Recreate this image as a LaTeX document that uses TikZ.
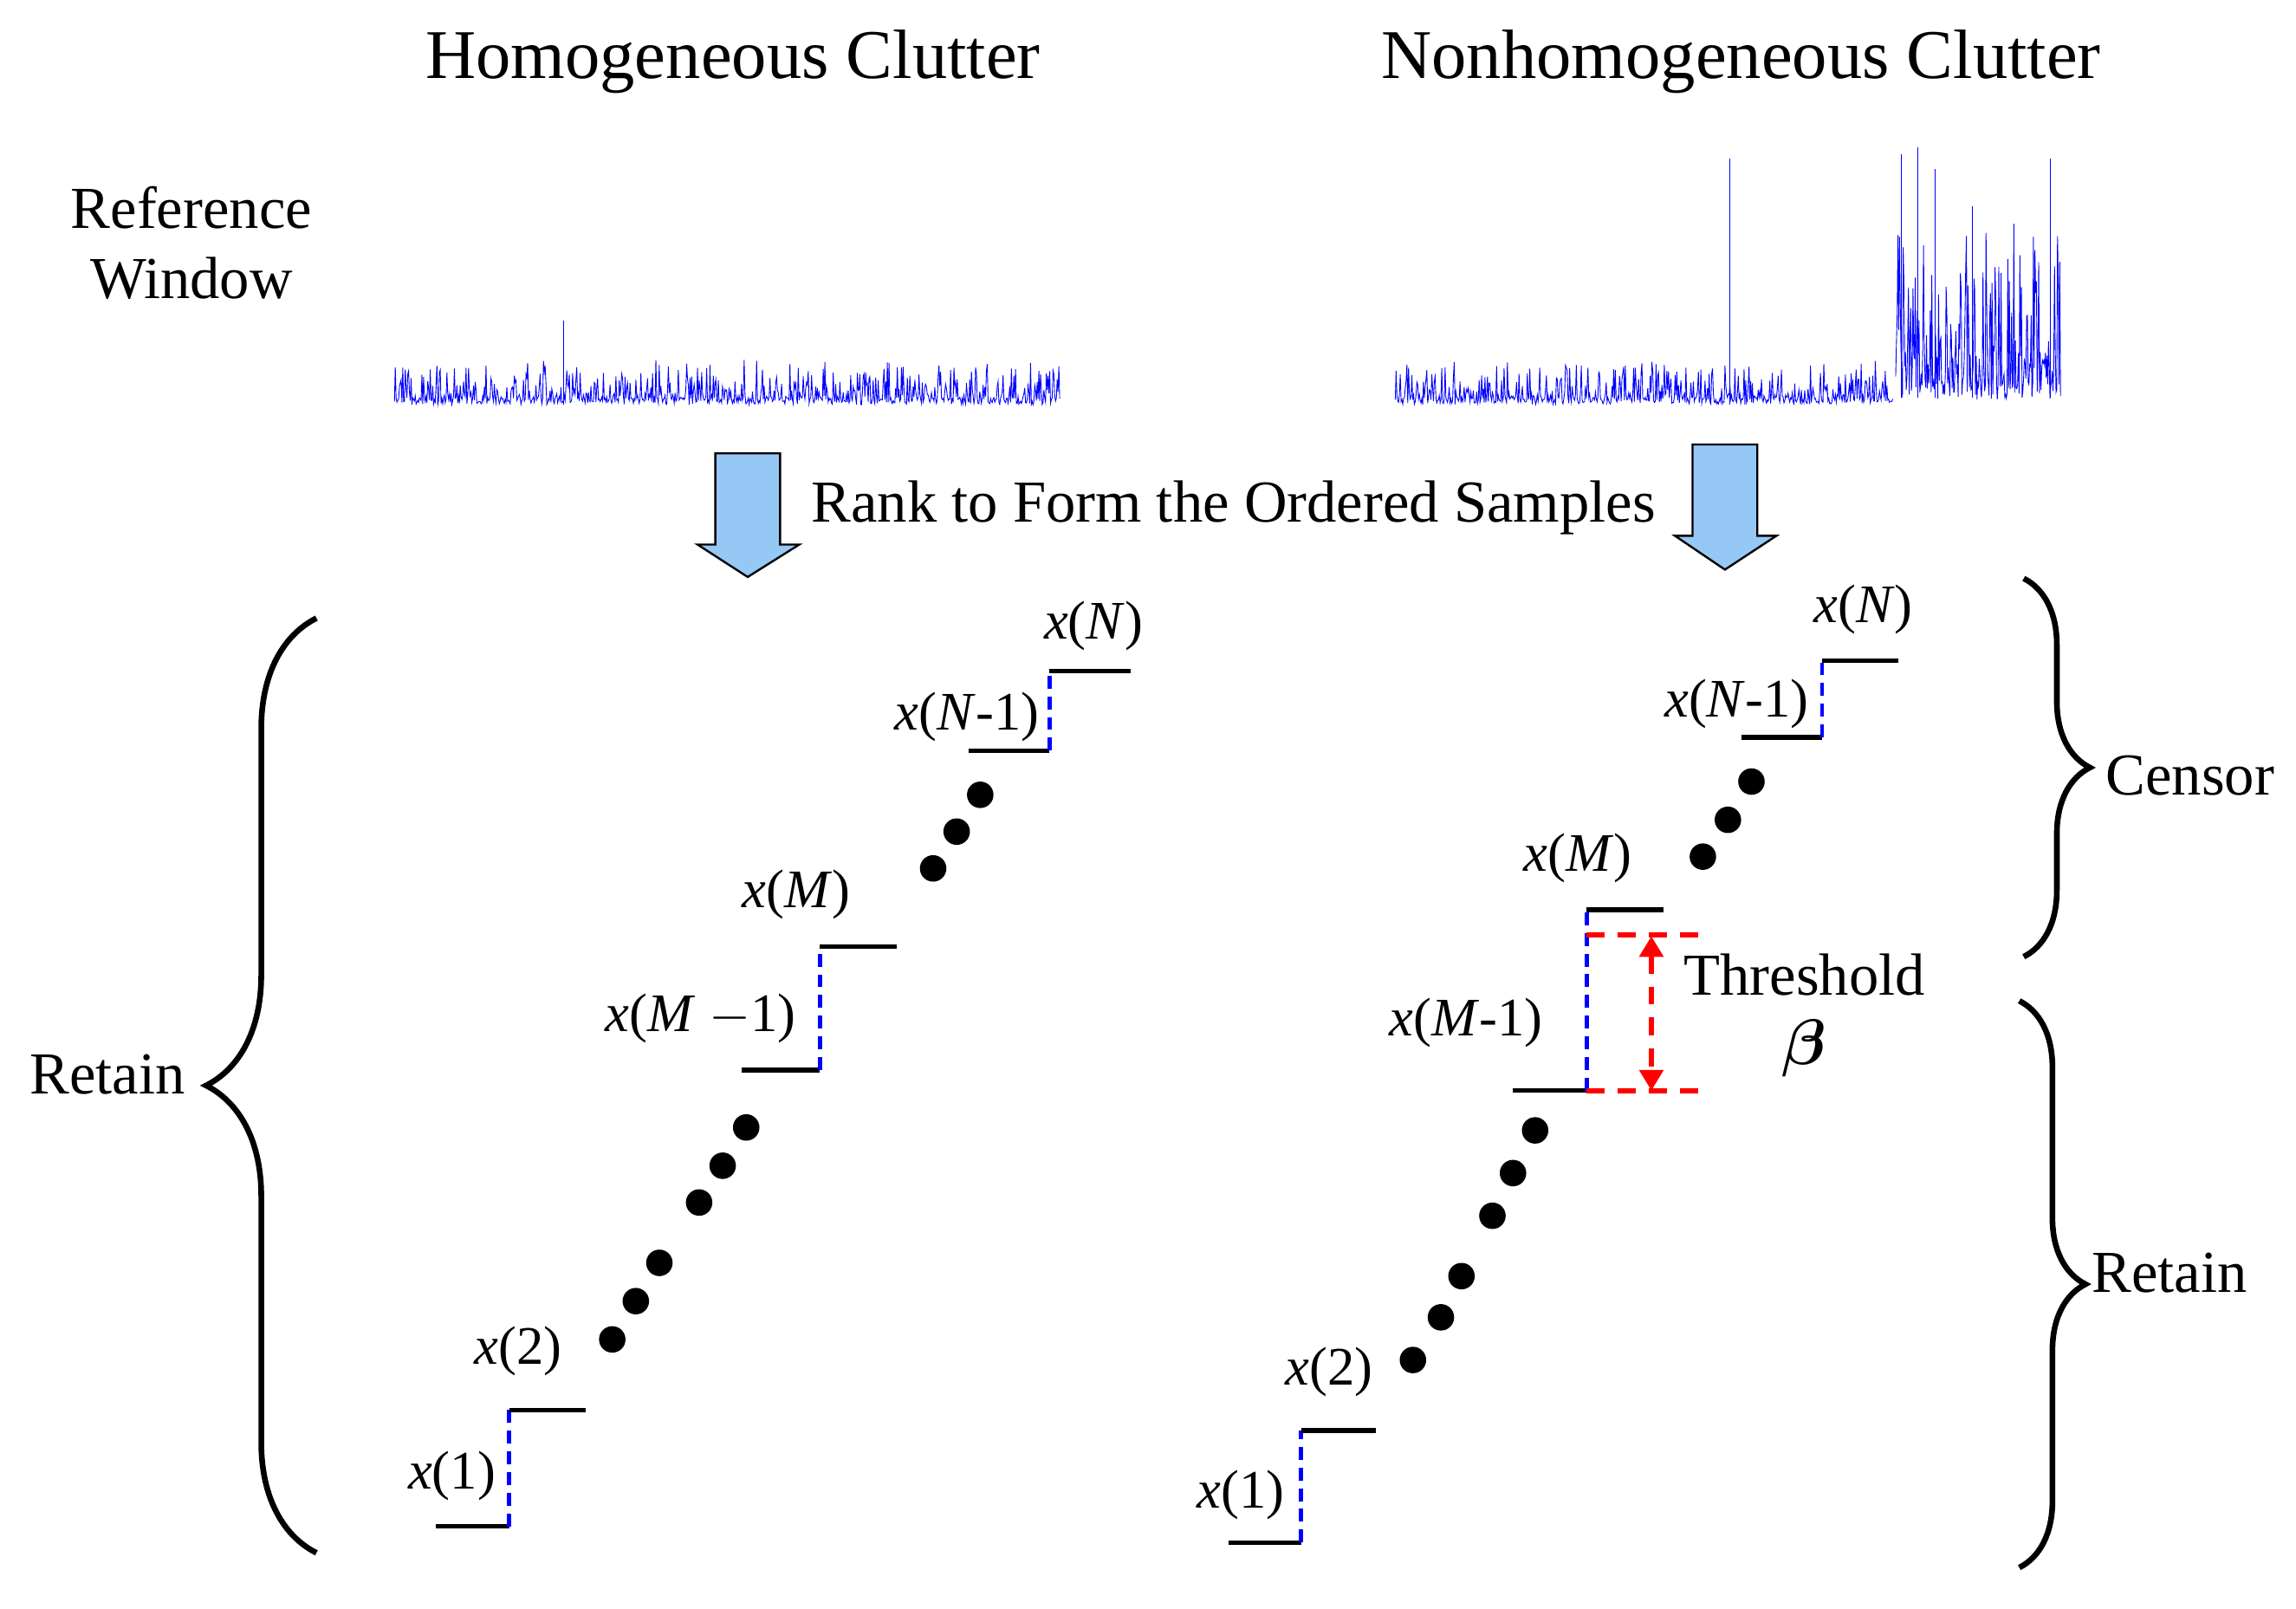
\documentclass[tikz,border=0pt]{standalone}
\usepackage{fontspec}
\setmainfont{Liberation Serif}
\usetikzlibrary{decorations.pathreplacing,arrows.meta}
\begin{document}
\begin{tikzpicture}[x=0.02cm,y=-0.02cm,
  title/.style={font=\fontsize{27}{30}\selectfont},
  txt/.style={font=\fontsize{23}{27}\selectfont},
  lab/.style={font=\fontsize{21}{24}\selectfont},
  stp/.style={line width=1.8pt},
  bd/.style={blue,line width=1.6pt,dash pattern=on 5pt off 3pt},
  rd/.style={red,line width=2pt,dash pattern=on 7pt off 5pt},
  dot/.style={circle,fill,inner sep=0pt,minimum size=0.36cm},
  sig/.style={blue,line width=0.3pt},
  barrow/.style={fill={rgb,255:red,150;green,200;blue,245},draw=black,line width=0.8pt},
  br/.style={decorate,line width=2.2pt}]
\useasboundingbox (0,0) rectangle (1560,1093);
\node[title] (t1) at (498,42) {Homogeneous Clutter};
\node[title] (t2) at (1183,42) {Nonhomogeneous Clutter};
\node[txt,align=center] (rw) at (130,165) {Reference\\Window};
% signals
\pgfmathsetseed{7}
\draw[sig] plot[samples=800,domain=268:720] (\x,{275-5*rnd-26*pow(rnd,4)});
\draw[sig] (383,275)--(383,218);
\draw[sig] plot[samples=600,domain=948:1286] (\x,{275-5*rnd-26*pow(rnd,4)});
\draw[sig] plot[samples=220,domain=1288:1400] (\x,{272-12*rnd-110*pow(rnd,3)});
\draw[sig] (1175,275)--(1175,108) (1292,270)--(1292,105) (1303,270)--(1303,100) (1315,270)--(1315,115) (1393,270)--(1393,108) (1340,270)--(1340,140);
% arrows
\draw[barrow] (486,308)--(530,308)--(530,370)--(543,370)--(508,392)--(474,370)--(486,370)--cycle;
\draw[barrow] (1150,302)--(1194,302)--(1194,364)--(1207,364)--(1172,387)--(1138,364)--(1150,364)--cycle;
\node[txt] (rank) at (838,345) {Rank to Form the Ordered Samples};
% left staircase
\coordinate (a1) at (296,1037); \coordinate (a2) at (346,1037);
\coordinate (a3) at (346,958); \coordinate (a4) at (398,958);
\draw[stp] (a1)--(a2); \draw[bd] (a2)--(a3); \draw[stp] (a3)--(a4);
\coordinate (b1) at (504,727); \coordinate (b2) at (557,727);
\coordinate (b3) at (557,643); \coordinate (b4) at (609,643);
\draw[stp] (b1)--(b2); \draw[bd] (b2)--(b3); \draw[stp] (b3)--(b4);
\coordinate (c1) at (658,510); \coordinate (c2) at (713,510);
\coordinate (c3) at (713,456); \coordinate (c4) at (768,456);
\draw[stp] (c1)--(c2); \draw[bd] (c2)--(c3); \draw[stp] (c3)--(c4);
\foreach \p in {(416,910),(432,884),(448,858),(475,817),(491,792),(507,766),(634,590),(650,565),(666,540)}
  \node[dot] at \p {};
\node[lab] (l1) at (307,1003) {\textit{x}(1)};
\node[lab] (l2) at (352,918) {\textit{x}(2)};
\node[lab] (l3) at (476,692) {\textit{x}(\textit{M} $-$1)};
\node[lab] (l4) at (541,608) {\textit{x}(\textit{M})};
\node[lab] (l5) at (657,487) {\textit{x}(\textit{N}-1)};
\node[lab] (l6) at (743,425) {\textit{x}(\textit{N})};
\draw[br,decoration={brace,amplitude=1.5cm}] (215,1055)--(215,420);
\node[txt] (ret1) at (73,730) {Retain};
% right staircase
\coordinate (d1) at (835,1048); \coordinate (d2) at (884,1048);
\coordinate (d3) at (884,972); \coordinate (d4) at (935,972);
\draw[stp] (d1)--(d2); \draw[bd] (d2)--(d3); \draw[stp] (d3)--(d4);
\coordinate (e1) at (1028,741); \coordinate (e2) at (1078,741);
\coordinate (e3) at (1078,618); \coordinate (e4) at (1130,618);
\draw[stp] (e1)--(e2); \draw[bd] (e2)--(e3); \draw[stp] (e3)--(e4);
\coordinate (f1) at (1183,501); \coordinate (f2) at (1238,501);
\coordinate (f3) at (1238,449); \coordinate (f4) at (1290,449);
\draw[stp] (f1)--(f2); \draw[bd] (f2)--(f3); \draw[stp] (f3)--(f4);
\foreach \p in {(960,924),(979,895),(993,867),(1014,826),(1028,797),(1043,768),(1157,582),(1174,557),(1190,531)}
  \node[dot] at \p {};
\coordinate (r1) at (1078,635); \coordinate (r2) at (1162,635);
\coordinate (r3) at (1078,741); \coordinate (r4) at (1162,741);
\draw[rd] (r1)--(r2); \draw[rd] (r3)--(r4);
\coordinate (ra) at (1122,636); \coordinate (rb) at (1122,741);
\draw[rd,{Triangle[width=9pt,length=8pt]}-{Triangle[width=9pt,length=8pt]}] (ra)--(rb);
\node[txt] (th) at (1226,662) {Threshold};
\node[font=\fontsize{36}{40}\selectfont\boldmath] (beta) at (1226,712) {$\beta$};
\node[lab] (m1) at (843,1016) {\textit{x}(1)};
\node[lab] (m2) at (903,932) {\textit{x}(2)};
\node[lab] (m3) at (996,695) {\textit{x}(\textit{M}-1)};
\node[lab] (m4) at (1072,583) {\textit{x}(\textit{M})};
\node[lab] (m5) at (1180,478) {\textit{x}(\textit{N}-1)};
\node[lab] (m6) at (1266,414) {\textit{x}(\textit{N})};
\draw[br,decoration={brace,amplitude=0.9cm}] (1375,393)--(1375,650);
\node[txt] (cen) at (1488,527) {Censor};
\draw[br,decoration={brace,amplitude=0.9cm}] (1372,680)--(1372,1065);
\node[txt] (ret2) at (1474,865) {Retain};
\end{tikzpicture}
\end{document}
